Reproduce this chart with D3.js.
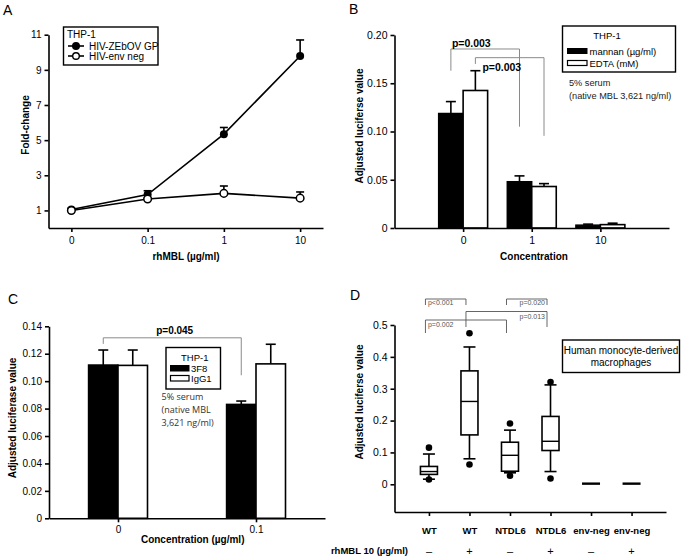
<!DOCTYPE html>
<html>
<head>
<meta charset="utf-8">
<script src="https://cdn.jsdelivr.net/npm/d3@7"></script>
<style>
body { margin: 0; background: #fff; }
svg { font-family: "Liberation Sans", Arial, sans-serif; }
.axis path, .axis line { stroke: #000; stroke-width: 1.6; }
.axis text { fill: #000; }
</style>
</head>
<body>
<svg id="fig" width="688" height="558"></svg>
<script>
// ---- panel A data
var aDoses = ["0", "0.1", "1", "10"];
var aGP = [1.05, 1.9, 5.34, 9.79];
var aGPErr = [1.13, 2.12, 5.72, 10.7];
var aNeg = [1.0, 1.65, 1.97, 1.70];
var aNegErr = [1.04, 1.7, 2.39, 2.05];
var aTicks = [1, 3, 5, 7, 9, 11];

// ---- panel B data
var bCats = ["0", "1", "10"];
var bMannan = [0.1187, 0.048, 0.003];
var bMannanErr = [0.131, 0.054, 0.004];
var bEdta = [0.1425, 0.043, 0.0035];
var bEdtaErr = [0.163, 0.046, 0.005];
var bTicks = [0, 0.05, 0.10, 0.15, 0.20];

// ---- panel C data
var cCats = ["0", "0.1"];
var c3F8 = [0.1118, 0.0831];
var c3F8Err = [0.1227, 0.0855];
var cIgG1 = [0.1115, 0.1126];
var cIgG1Err = [0.1227, 0.1269];
var cTicks = [0, 0.02, 0.04, 0.06, 0.08, 0.10, 0.12, 0.14];

// ---- panel D data (box plot stats)
var dGroups = ["WT", "WT", "NTDL6", "NTDL6", "env-neg", "env-neg"];
var dMBL = ["\u2013", "+", "\u2013", "+", "\u2013", "+"];
var dLo = [0.016, 0.080, 0.036, 0.040, 0.002, 0.002];
var dQ1 = [0.031, 0.155, 0.041, 0.106, 0.002, 0.002];
var dMed = [0.040, 0.260, 0.091, 0.135, 0.002, 0.002];
var dQ3 = [0.056, 0.356, 0.132, 0.213, 0.002, 0.002];
var dHi = [0.095, 0.431, 0.170, 0.312, 0.002, 0.002];
var dOutLo = [0.015, 0.062, 0.027, 0.018, null, null];
var dOutHi = [0.115, 0.474, 0.191, 0.321, null, null];
var dTicks = [0, 0.1, 0.2, 0.3, 0.4, 0.5];

var svg = d3.select("#fig");

function yAxis(g, x, y, ticks, fmt, fs) {
    g.append("g").attr("class", "axis")
        .attr("transform", `translate(${x},0)`)
        .call(d3.axisLeft(y).tickValues(ticks).tickFormat(fmt).tickSize(4).tickSizeOuter(0).tickPadding(3))
        .attr("font-family", null).attr("font-size", fs);
}

function xAxis(g, yPos, x, fmt, fs, pad, bold) {
    var ax = g.append("g").attr("class", "axis")
        .attr("transform", `translate(0,${yPos})`)
        .call(d3.axisBottom(x).tickFormat(fmt).tickSize(4).tickSizeOuter(0).tickPadding(pad))
        .attr("font-family", null).attr("font-size", fs);
    if (bold) ax.attr("font-weight", "bold");
}

function yTitle(g, x, y, txt) {
    g.append("text").attr("transform", `translate(${x},${y}) rotate(-90)`)
        .attr("text-anchor", "middle").attr("font-size", "10px").attr("font-weight", "bold")
        .text(txt);
}

function label(g, x, y, txt, size, opts) {
    var t = g.append("text").attr("x", x).attr("y", y).attr("font-size", size).text(txt);
    if (opts) for (var k in opts) t.attr(k, opts[k]);
    return t;
}

// upward error bar with cap
function errBar(g, x, y0, y1, w) {
    g.append("line").attr("x1", x).attr("x2", x).attr("y1", y0).attr("y2", y1)
        .attr("stroke", "#000").attr("stroke-width", 1.6);
    g.append("line").attr("x1", x - w / 2).attr("x2", x + w / 2).attr("y1", y1).attr("y2", y1)
        .attr("stroke", "#000").attr("stroke-width", 1.6);
}

function bracket(g, x1, x2, yTop, yL, yR, col, sw) {
    g.append("path")
        .attr("d", `M${x1},${yL}V${yTop}H${x2}V${yR}`)
        .attr("fill", "none").attr("stroke", col).attr("stroke-width", sw);
}

// ================= Panel A
(function () {
    var g = svg.append("g");
    var x = d3.scalePoint().domain(aDoses).range([48.5, 323]).padding(0.3);
    var y = d3.scaleLinear().domain([0, 11]).range([228, 34.7]);

    label(g, 3, 15, "A", "14px");
    yAxis(g, 48.5, y, aTicks, d3.format("d"), "10px");
    xAxis(g, 228, x, d => d, "10px", 5);
    yTitle(g, 28.5, 125, "Fold-change");
    label(g, 186, 260, "rhMBL (\u00b5g/ml)", "10px", {"text-anchor": "middle", "font-weight": "bold"});

    aDoses.forEach((d, i) => {
        errBar(g, x(d), y(aGP[i]), y(aGPErr[i]), 8);
        errBar(g, x(d), y(aNeg[i]), y(aNegErr[i]), 8);
    });
    var line = d3.line().x((v, i) => x(aDoses[i])).y(v => y(v));
    g.append("path").attr("d", line(aGP)).attr("fill", "none").attr("stroke", "#000").attr("stroke-width", 1.6);
    g.append("path").attr("d", line(aNeg)).attr("fill", "none").attr("stroke", "#000").attr("stroke-width", 1.6);
    g.selectAll(".gp").data(aGP).enter().append("circle")
        .attr("cx", (v, i) => x(aDoses[i])).attr("cy", v => y(v)).attr("r", 4)
        .attr("fill", "#000");
    g.selectAll(".neg").data(aNeg).enter().append("circle")
        .attr("cx", (v, i) => x(aDoses[i])).attr("cy", v => y(v)).attr("r", 3.8)
        .attr("fill", "#fff").attr("stroke", "#000").attr("stroke-width", 1.5);

    // legend
    g.append("rect").attr("x", 63.5).attr("y", 27).attr("width", 94.5).attr("height", 38)
        .attr("fill", "#fff").attr("stroke", "#000").attr("stroke-width", 1.4);
    label(g, 67, 38, "THP-1", "10px");
    [[49.5, true, "HIV-ZEbOV GP"], [59.5, false, "HIV-env neg"]].forEach(r => {
        var cy = r[0] - 3.5;
        g.append("line").attr("x1", 68).attr("x2", 84).attr("y1", cy).attr("y2", cy)
            .attr("stroke", "#000").attr("stroke-width", 1.6);
        g.append("circle").attr("cx", 76).attr("cy", cy).attr("r", 3.3)
            .attr("fill", r[1] ? "#000" : "#fff").attr("stroke", "#000").attr("stroke-width", 1.4);
        label(g, 89, r[0], r[2], "10px");
    });
})();

// ================= Panel B
(function () {
    var g = svg.append("g");
    var x = d3.scalePoint().domain(bCats).range([394.5, 669]).padding(1);
    var y = d3.scaleLinear().domain([0, 0.2]).range([228, 35]);
    var bw = 24.5;

    label(g, 349, 14, "B", "14px");
    yAxis(g, 394.5, y, bTicks, d => d === 0 ? "0" : d3.format(".2f")(d), "10.5px");
    yTitle(g, 362.5, 126, "Adjusted luciferse value");
    label(g, 534, 260, "Concentration", "10px", {"text-anchor": "middle", "font-weight": "bold"});

    bCats.forEach((c, i) => {
        errBar(g, x(c) - bw / 2, y(bMannan[i]), y(bMannanErr[i]), 10);
        errBar(g, x(c) + bw / 2, y(bEdta[i]), y(bEdtaErr[i]), 10);
        g.append("rect").attr("x", x(c) - bw).attr("y", y(bMannan[i]))
            .attr("width", bw).attr("height", y(0) - y(bMannan[i]))
            .attr("fill", "#000").attr("stroke", "#000").attr("stroke-width", 1.4);
        g.append("rect").attr("x", x(c)).attr("y", y(bEdta[i]))
            .attr("width", bw).attr("height", y(0) - y(bEdta[i]))
            .attr("fill", "#fff").attr("stroke", "#000").attr("stroke-width", 1.6);
    });
    xAxis(g, 228, x, d => d, "10.5px", 5);

    // significance brackets
    var l1 = x("0") - bw / 2, r1 = x("1") - bw / 2;
    var l2 = x("0") + bw / 2, r2 = x("1") + bw / 2;
    bracket(g, l1, r1, y(0.1855), y(0.163), y(0.105), "#8a8a8a", 1);
    bracket(g, l2, r2, y(0.1765), y(0.170), y(0.0955), "#8a8a8a", 1);
    label(g, l1 + 1, 47, "p=0.003", "10.5px", {"font-weight": "bold"});
    label(g, l2 + 7, 70.5, "p=0.003", "10.5px", {"font-weight": "bold"});

    // legend
    g.append("rect").attr("x", 562.5).attr("y", 26).attr("width", 113).attr("height", 46)
        .attr("fill", "#fff").attr("stroke", "#000").attr("stroke-width", 1.4);
    label(g, 607, 39, "THP-1", "9.5px", {"text-anchor": "middle"});
    g.append("rect").attr("x", 567.5).attr("y", 48.5).attr("width", 19.5).attr("height", 5)
        .attr("fill", "#000").attr("stroke", "#000").attr("stroke-width", 1);
    g.append("rect").attr("x", 567.5).attr("y", 60.5).attr("width", 19.5).attr("height", 5)
        .attr("fill", "#fff").attr("stroke", "#000").attr("stroke-width", 1.2);
    label(g, 589.5, 54.5, "mannan (\u00b5g/ml)", "9.5px");
    label(g, 589.5, 66.5, "EDTA (mM)", "9.5px");
    label(g, 569, 86, "5% serum", "9.2px", {"fill": "#222"});
    label(g, 569, 99, "(native MBL 3,621 ng/ml)", "9.2px", {"fill": "#222"});
})();

// ================= Panel C
(function () {
    var g = svg.append("g");
    var x = d3.scalePoint().domain(cCats).range([49, 325]).padding(0.5);
    var y = d3.scaleLinear().domain([0, 0.14]).range([518.3, 326.3]);
    var bw = 29.5;

    label(g, 8, 304, "C", "14px");
    yAxis(g, 49, y, cTicks, d => d === 0 ? "0" : d3.format(".2f")(d), "10px");
    yTitle(g, 16, 418, "Adjusted luciferase value");
    label(g, 192.7, 543, "Concentration (\u00b5g/ml)", "10px", {"text-anchor": "middle", "font-weight": "bold"});

    cCats.forEach((c, i) => {
        errBar(g, x(c) - bw / 2, y(c3F8[i]), y(c3F8Err[i]), 10);
        errBar(g, x(c) + bw / 2, y(cIgG1[i]), y(cIgG1Err[i]), 10);
        g.append("rect").attr("x", x(c) - bw).attr("y", y(c3F8[i]))
            .attr("width", bw).attr("height", y(0) - y(c3F8[i]))
            .attr("fill", "#000").attr("stroke", "#000").attr("stroke-width", 1.4);
        g.append("rect").attr("x", x(c)).attr("y", y(cIgG1[i]))
            .attr("width", bw).attr("height", y(0) - y(cIgG1[i]))
            .attr("fill", "#fff").attr("stroke", "#000").attr("stroke-width", 1.6);
    });
    xAxis(g, 518.3, x, d => d, "10px", 4);

    var l = x("0") - bw / 2, r = x("0.1") - bw / 2;
    bracket(g, l, r, y(0.1316), y(0.1272), y(0.1043), "#8a8a8a", 1);
    label(g, 174.7, 334, "p=0.045", "10px", {"text-anchor": "middle", "font-weight": "bold"});

    // legend
    g.append("rect").attr("x", 166).attr("y", 347.5).attr("width", 54.5).attr("height", 41.5)
        .attr("fill", "#fff").attr("stroke", "#000").attr("stroke-width", 1.4);
    label(g, 181, 361, "THP-1", "9.5px");
    g.append("rect").attr("x", 170.5).attr("y", 365.5).attr("width", 18.5).attr("height", 5.5)
        .attr("fill", "#000").attr("stroke", "#000").attr("stroke-width", 1);
    g.append("rect").attr("x", 170.5).attr("y", 375.5).attr("width", 18.5).attr("height", 5.5)
        .attr("fill", "#fff").attr("stroke", "#000").attr("stroke-width", 1.2);
    label(g, 191, 372, "3F8", "9.5px");
    label(g, 191, 382, "IgG1", "9.5px");
    label(g, 161.5, 400, "5% serum", "9px", {"fill": "#333", "font-family": "Open Sans"});
    label(g, 161.5, 413, "(native MBL", "9px", {"fill": "#333", "font-family": "Open Sans"});
    label(g, 161.5, 426, "3,621 ng/ml)", "9px", {"fill": "#333", "font-family": "Open Sans"});
})();

// ================= Panel D
(function () {
    var g = svg.append("g");
    var idx = dGroups.map((d, i) => i);
    var x = d3.scalePoint().domain(idx).range([394.5, 666]).padding(0.85);
    var y = d3.scaleLinear().domain([-0.087, 0.5]).range([512, 325]);
    var bw = 17, cw = 12;

    label(g, 350, 300, "D", "14px");
    yAxis(g, 394.5, y, dTicks, d => d === 0 ? "0" : d3.format(".1f")(d), "10.5px");
    xAxis(g, 512, x, i => dGroups[i], "9.5px", 11, true);
    yTitle(g, 362.5, 402, "Adjusted luciferse value");
    g.selectAll(".mbl").data(dMBL).enter().append("text")
        .attr("x", (d, i) => x(i)).attr("y", 554.5).attr("text-anchor", "middle")
        .attr("font-size", "11px").text(d => d);
    label(g, 408, 554, "rhMBL 10 (\u00b5g/ml)", "9.5px", {"text-anchor": "end", "font-weight": "bold"});

    idx.forEach(i => {
        var cx = x(i);
        if (dQ1[i] === dQ3[i]) {
            g.append("line").attr("x1", cx - 9).attr("x2", cx + 9)
                .attr("y1", y(dMed[i])).attr("y2", y(dMed[i]))
                .attr("stroke", "#000").attr("stroke-width", 2.4);
            return;
        }
        g.append("line").attr("x1", cx).attr("x2", cx).attr("y1", y(dHi[i])).attr("y2", y(dQ3[i]))
            .attr("stroke", "#000").attr("stroke-width", 1.6);
        g.append("line").attr("x1", cx).attr("x2", cx).attr("y1", y(dQ1[i])).attr("y2", y(dLo[i]))
            .attr("stroke", "#000").attr("stroke-width", 1.6);
        [dHi[i], dLo[i]].forEach(v => {
            g.append("line").attr("x1", cx - cw / 2).attr("x2", cx + cw / 2).attr("y1", y(v)).attr("y2", y(v))
                .attr("stroke", "#000").attr("stroke-width", 1.6);
        });
        g.append("rect").attr("x", cx - bw / 2).attr("y", y(dQ3[i]))
            .attr("width", bw).attr("height", y(dQ1[i]) - y(dQ3[i]))
            .attr("fill", "#fff").attr("stroke", "#000").attr("stroke-width", 1.6);
        g.append("line").attr("x1", cx - bw / 2).attr("x2", cx + bw / 2)
            .attr("y1", y(dMed[i])).attr("y2", y(dMed[i]))
            .attr("stroke", "#000").attr("stroke-width", 1.4);
        [dOutHi[i], dOutLo[i]].forEach(v => {
            if (v !== null) g.append("circle").attr("cx", cx).attr("cy", y(v)).attr("r", 3.3).attr("fill", "#000");
        });
    });

    // significance brackets (thin, small text)
    var bx = i => x(i) - 3.5;
    var col = "#555";
    bracket(g, bx(0), bx(1), 299, 305, 305, col, 0.9);
    label(g, bx(0) + 2.5, 304.5, "p<0.001", "7px", {"fill": col});
    bracket(g, bx(2), bx(3), 299, 305, 305, col, 0.9);
    label(g, bx(3) - 2, 304.5, "p=0.020", "7px", {"fill": col, "text-anchor": "end"});
    bracket(g, bx(1), bx(3), 311.5, 327, 327, col, 0.9);
    label(g, bx(3) - 2, 318.5, "p=0.013", "7px", {"fill": col, "text-anchor": "end"});
    bracket(g, bx(0), bx(2), 320, 333, 333, col, 0.9);
    label(g, bx(0) + 2.5, 327, "p=0.002", "7px", {"fill": col});

    // legend box
    g.append("rect").attr("x", 562.5).attr("y", 340).attr("width", 117).attr("height", 32.5)
        .attr("fill", "#fff").attr("stroke", "#000").attr("stroke-width", 1.4);
    label(g, 621, 354, "Human monocyte-derived", "10px", {"text-anchor": "middle"});
    label(g, 621, 366, "macrophages", "10px", {"text-anchor": "middle"});
})();
</script>
</body>
</html>
